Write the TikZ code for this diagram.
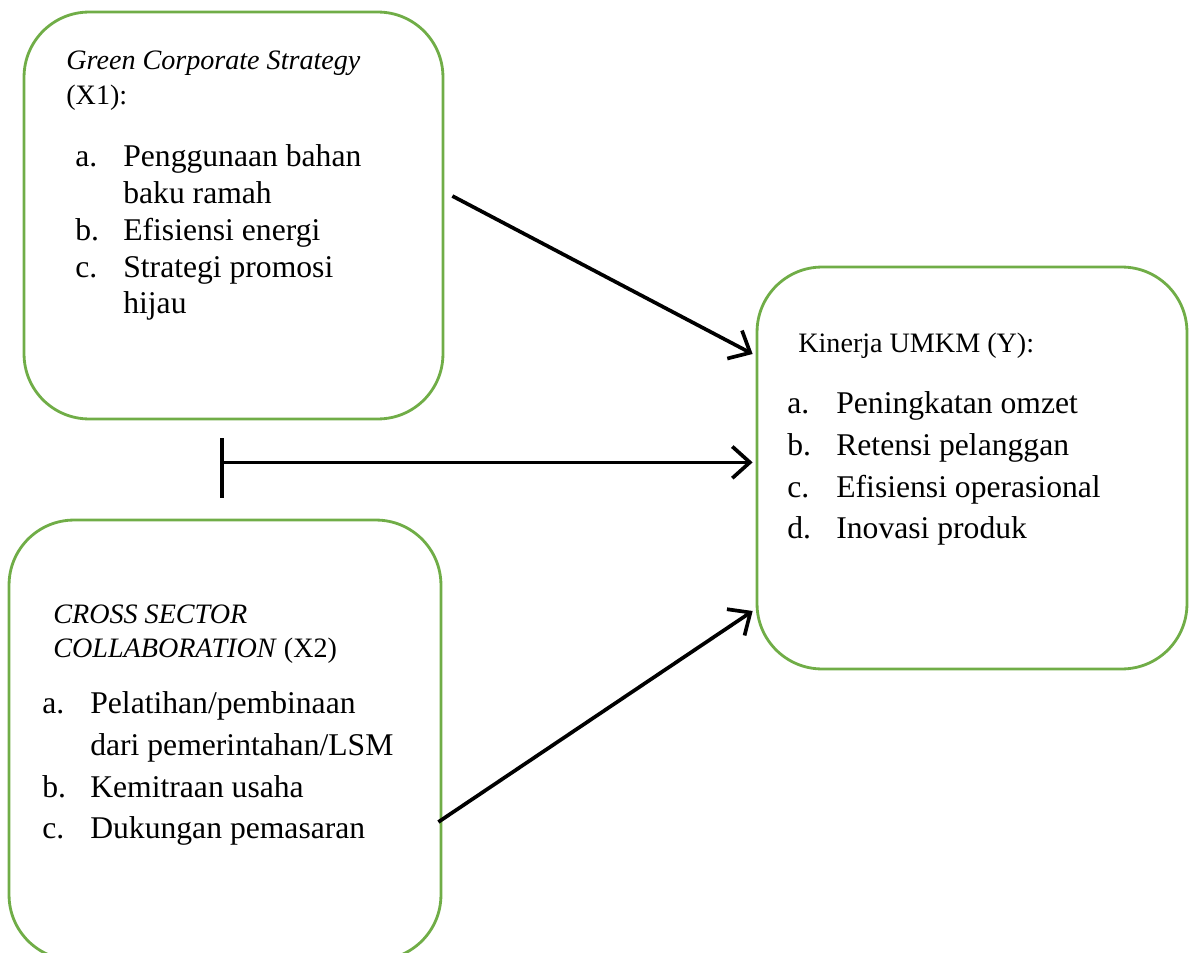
\documentclass[tikz,border=0pt]{standalone}
\usepackage{fontspec}
\setmainfont{Liberation Serif}
\usetikzlibrary{arrows.meta,calc}

\definecolor{boxgreen}{RGB}{112,173,71}

\tikzstyle{varbox}=[draw=boxgreen,line width=1.6pt,rectangle,rounded corners=37pt,inner sep=0pt]
\tikzstyle{head}=[anchor=base west,inner sep=0pt,font=\fontsize{16}{19}\selectfont]
\tikzstyle{item}=[anchor=base west,inner sep=0pt,font=\fontsize{18}{21}\selectfont]
\tikzstyle{link}=[line width=2.1pt,-{Straight Barb[length=10pt,width=18pt]}]

\begin{document}
\begin{tikzpicture}[x=0.02cm,y=-0.02cm]
\useasboundingbox (0,0) rectangle (1194,953);

% the three boxes
\node[varbox,minimum width=8.38cm,minimum height=8.14cm] (gcs) at (233.5,215.5) {};
\node[varbox,minimum width=8.64cm,minimum height=8.8cm] (csc) at (225,740) {};
\node[varbox,minimum width=8.6cm,minimum height=8.04cm] (kin) at (972,468) {};

% text of gcs
\node[head] (gcs-title-1) at (66,70) {\textit{Green Corporate Strategy}};
\node[head] (gcs-title-2) at (66,105) {(X1):};
\node[item] (gcs-a) at (75,167) {a.};
\node[item] (gcs-a-1) at (123,167) {Penggunaan bahan};
\node[item] (gcs-a-2) at (123,203) {baku ramah};
\node[item] (gcs-b) at (75,240) {b.};
\node[item] (gcs-b-1) at (123,240) {Efisiensi energi};
\node[item] (gcs-c) at (75,277) {c.};
\node[item] (gcs-c-1) at (123,277) {Strategi promosi};
\node[item] (gcs-c-2) at (123,313) {hijau};

% text of csc
\node[head] (csc-title-1) at (53,623) {\textit{CROSS SECTOR}};
\node[head] (csc-title-2) at (53,657) {\textit{COLLABORATION} (X2)};
\node[item] (csc-a) at (42,713) {a.};
\node[item] (csc-a-1) at (90,713) {Pelatihan/pembinaan};
\node[item] (csc-a-2) at (90,755) {dari pemerintahan/LSM};
\node[item] (csc-b) at (42,797) {b.};
\node[item] (csc-b-1) at (90,797) {Kemitraan usaha};
\node[item] (csc-c) at (42,838) {c.};
\node[item] (csc-c-1) at (90,838) {Dukungan pemasaran};

% text of kin
\node[head] (kin-title) at (798,352) {Kinerja UMKM (Y):};
\node[item] (kin-a) at (787,413) {a.};
\node[item] (kin-a-1) at (836,413) {Peningkatan omzet};
\node[item] (kin-b) at (787,455) {b.};
\node[item] (kin-b-1) at (836,455) {Retensi pelanggan};
\node[item] (kin-c) at (787,497) {c.};
\node[item] (kin-c-1) at (836,497) {Efisiensi operasional};
\node[item] (kin-d) at (787,538) {d.};
\node[item] (kin-d-1) at (836,538) {Inovasi produk};

% free ends of the connectors
\coordinate (gcs-out) at ($(gcs.east)+(8,-19.5)$);
\coordinate (csc-out) at ($(csc.east)+(-4,82)$);
\coordinate (mod) at ($(gcs.south)+(-11.5,42)$);

% connectors
\draw[link] (gcs-out) -- ($(kin.west)+(-3,-114)$);
\draw[link] (mod) -- ($(mod -| kin.west)+(-3,0)$);
\draw[link] (csc-out) -- ($(kin.west)+(-3,143)$);
\draw[line width=2.1pt] ($(mod)+(0,-24)$) -- ($(mod)+(0,36)$);

\end{tikzpicture}
\end{document}
